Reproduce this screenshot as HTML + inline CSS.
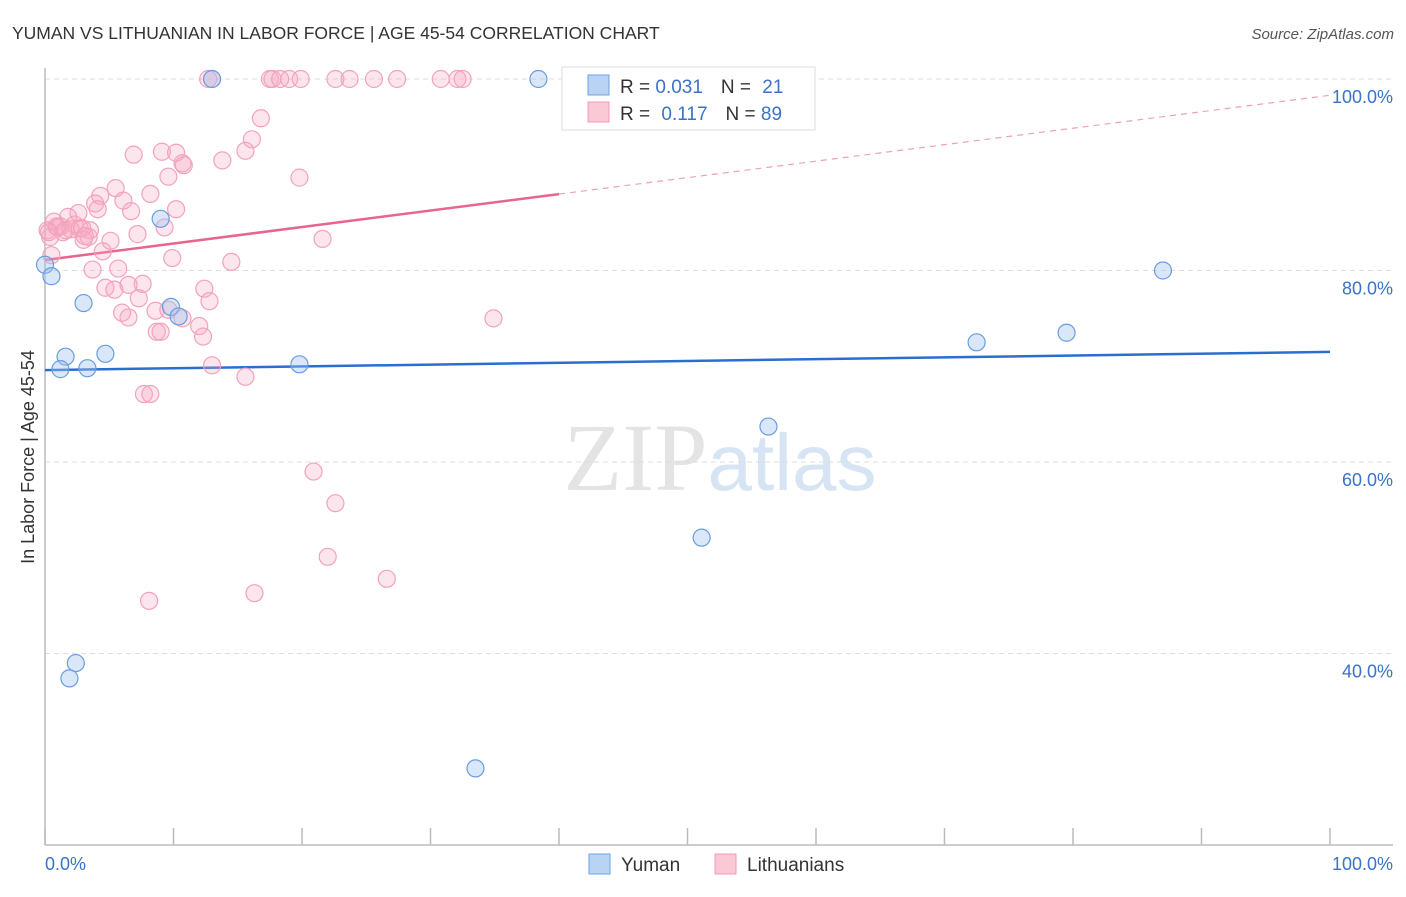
<!DOCTYPE html>
<html><head><meta charset="utf-8"><style>
body{margin:0;background:#fff;font-family:"Liberation Sans",sans-serif;}
svg text{font-family:"Liberation Sans",sans-serif;}
</style></head><body>
<svg id="chart" width="1406" height="892" xmlns="http://www.w3.org/2000/svg">
<text x="12" y="39" font-size="17.5" fill="#333">YUMAN VS LITHUANIAN IN LABOR FORCE | AGE 45-54 CORRELATION CHART</text>
<text x="1394" y="39" font-size="15" fill="#555" text-anchor="end" font-style="italic">Source: ZipAtlas.com</text>
<text x="720" y="490" font-size="96" text-anchor="middle" fill="#e4e4e4"><tspan font-family="Liberation Serif">ZIP</tspan><tspan fill="#d6e4f4" font-size="80">atlas</tspan></text>
<g id="grid"></g>
<line x1="45" y1="68" x2="45" y2="845" stroke="#bbb" stroke-width="1.5"/>
<line x1="45" y1="845" x2="1393" y2="845" stroke="#bbb" stroke-width="1.5"/>
<text transform="translate(34,457) rotate(-90)" font-size="18" fill="#333" text-anchor="middle">In Labor Force | Age 45-54</text>
<text x="45" y="870" font-size="18" fill="#3a72c8">0.0%</text>
<text x="1393" y="870" font-size="18" fill="#3a72c8" text-anchor="end">100.0%</text>
<g id="ticks"></g>
<g id="trend"></g>
<g id="points"></g>
<g>
<rect x="562" y="67" width="253" height="63" fill="#fff" stroke="#ddd"/>
<rect x="588" y="75" width="21" height="20" fill="#b8d3f3" stroke="#6ea0e0"/>
<rect x="588" y="102" width="21" height="20" fill="#fbc8d6" stroke="#f09ab3"/>
<text x="620" y="93" font-size="19" fill="#333">R = <tspan fill="#3a72c8">0.031</tspan><tspan dx="18">N = </tspan><tspan fill="#3a72c8" dx="6">21</tspan></text>
<text x="620" y="120" font-size="19" fill="#333">R = <tspan fill="#3a72c8" dx="6">0.117</tspan><tspan dx="18">N = </tspan><tspan fill="#3a72c8">89</tspan></text>
</g>
<g>
<rect x="589" y="854" width="21" height="20" fill="#b8d3f3" stroke="#6ea0e0"/>
<text x="621" y="871" font-size="19" fill="#333">Yuman</text>
<rect x="715" y="854" width="21" height="20" fill="#fbc8d6" stroke="#f09ab3"/>
<text x="747" y="871" font-size="19" fill="#333">Lithuanians</text>
</g>
</svg>
<script>
const yTicks=[100,80,60,40];
const yTickLabels=["100.0%","80.0%","60.0%","40.0%"];
const xTickVals=[0,10,20,30,40,50,60,70,80,90,100];
const yumanX=[0,0.5,3.0,1.6,1.2,3.3,4.7,9.0,9.8,10.4,13.0,19.8,38.4,2.4,1.9,33.5,51.1,56.3,72.5,79.5,87.0];
const yumanY=[80.6,79.4,76.6,71.0,69.7,69.8,71.3,85.4,76.2,75.2,100,70.2,100,39.0,37.4,28.0,52.1,63.7,72.5,73.5,80.0];
const lithX=[12.7,13.0,17.5,17.7,18.3,19.0,19.9,22.6,23.7,25.6,27.4,30.8,32.1,32.5,16.8,16.1,15.6,6.9,9.1,10.2,10.7,10.8,13.8,9.6,19.8,5.5,8.2,4.3,6.1,3.9,4.1,10.2,6.7,2.6,1.8,0.7,1.2,1.6,2.3,2.7,3.5,9.3,7.2,3.0,3.4,5.1,0.4,0.2,21.6,4.5,0.5,9.9,14.5,3.7,5.7,7.6,6.5,4.7,5.4,12.4,7.3,12.8,6.0,6.5,8.6,9.6,10.7,34.9,12.0,8.7,9.0,12.3,13.0,15.6,7.7,8.2,20.9,22.6,22.0,26.6,16.3,8.1,1.0,2.0,1.4,0.9,2.9,3.1,0.3];
const lithY=[100,100,100,100,100,100,100,100,100,100,100,100,100,100,95.9,93.7,92.5,92.1,92.4,92.3,91.2,91.0,91.5,89.8,89.7,88.6,88.0,87.8,87.3,87.0,86.4,86.4,86.2,86.0,85.6,85.1,84.6,84.2,84.8,84.4,84.2,84.5,83.8,83.2,83.5,83.1,83.5,84.2,83.3,82.0,81.6,81.3,80.9,80.1,80.2,78.6,78.5,78.2,78.0,78.1,77.1,76.8,75.6,75.1,75.8,75.9,75.0,75.0,74.2,73.6,73.6,73.1,70.1,68.9,67.1,67.1,59.0,55.7,50.1,47.8,46.3,45.5,84.5,84.3,84.0,84.6,84.4,83.6,84.0];
const yumanTrend=[69.6,71.5];
const lithTrend=[81.1,98.3];
const NS='http://www.w3.org/2000/svg';
const xs=v=>45+v*12.85;
const ys=v=>79+(100-v)*9.575;
function mk(tag,attrs,parent){const e=document.createElementNS(NS,tag);for(const k in attrs)e.setAttribute(k,attrs[k]);parent.appendChild(e);return e;}
const grid=document.getElementById('grid');
yTicks.forEach((t,i)=>{
 const l=mk('line',{x1:45,x2:1393,y1:ys(t),y2:ys(t),stroke:'#ddd','stroke-dasharray':'5,4'},grid);
 
 
 const tx=mk('text',{x:1393,y:ys(t)+24,'font-size':18,fill:'#3a72c8','text-anchor':'end'},grid);
 tx.textContent=yTickLabels[i];
 
 
});
const ticks=document.getElementById('ticks');
xTickVals.forEach(v=>{
 const l=mk('line',{x1:xs(v),x2:xs(v),y1:828,y2:845,stroke:'#bbb','stroke-width':1.5},ticks);
 
 
});
const tr=document.getElementById('trend');
const t1=mk('line',{x1:xs(0),y1:ys(yumanTrend[0]),x2:xs(100),y2:ys(yumanTrend[1]),stroke:'#2a6fd0','stroke-width':2.5},tr);


const lm=lithTrend[0]+(lithTrend[1]-lithTrend[0])*0.4;
const t2=mk('line',{x1:xs(0),y1:ys(lithTrend[0]),x2:xs(40),y2:ys(lm),stroke:'#e8658e','stroke-width':2.5},tr);


const t3=mk('line',{x1:xs(40),y1:ys(lm),x2:xs(100),y2:ys(lithTrend[1]),stroke:'#eea0b8','stroke-width':1.2,'stroke-dasharray':'6,5'},tr);


const pts=document.getElementById('points');
lithX.forEach((x,i)=>{
 const c=mk('circle',{cx:xs(x),cy:ys(lithY[i]),r:8.5,fill:'rgba(248,170,195,0.3)',stroke:'#f2a3bb','stroke-width':1.2},pts);
 
 
});
yumanX.forEach((x,i)=>{
 const c=mk('circle',{cx:xs(x),cy:ys(yumanY[i]),r:8.5,fill:'rgba(160,195,240,0.4)',stroke:'#6a9de0','stroke-width':1.2},pts);
 
 
});
</script>
</body></html>
